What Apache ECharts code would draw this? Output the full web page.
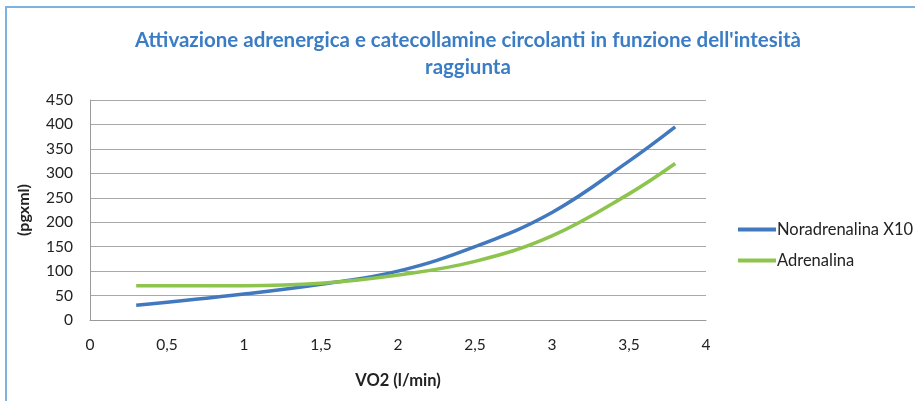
<!DOCTYPE html>
<html>
<head>
<meta charset="utf-8">
<script src="https://cdn.jsdelivr.net/npm/echarts@6/dist/echarts.min.js"></script>
<style>
  html, body { margin: 0; padding: 0; background: #fff; overflow: hidden; }
  #frame { position: absolute; left: 5px; top: 6px; width: 940px; height: 420px; border: 2px solid #7FB2E0; box-sizing: border-box; }
  #chart { position: absolute; left: 0; top: 0; width: 915px; height: 401px; }
</style>
</head>
<body>
<div id="frame"></div>
<div id="chart"></div>
<script>
  // VO2 (l/min) sampled points
  var vo2 = [0.3, 1, 1.5, 2, 2.5, 3, 3.5, 3.8];
  var noradrenalina = [30, 53, 73, 100, 150, 220, 325, 395];
  var adrenalina = [70, 70, 75, 92, 120, 172, 258, 320];
  var seriesNames = ['Noradrenalina X10', 'Adrenalina'];

  function pairs(ys) {
    return vo2.map(function (x, i) { return [x, ys[i]]; });
  }

  var chart = echarts.init(document.getElementById('chart'));
  var font = 'Lato, "Open Sans", sans-serif';
  chart.setOption({
    animation: false,
    title: {
      text: "Attivazione adrenergica e catecollamine circolanti in funzione dell'intesità\nraggiunta",
      left: 463,
      textAlign: 'center',
      top: 22,
      textStyle: { color: '#3B7DC4', fontSize: 20.5, fontWeight: 'bold', fontFamily: font, lineHeight: 27 }
    },
    legend: {
      orient: 'vertical',
      left: 733,
      top: 216,
      itemWidth: 38,
      itemHeight: 4,
      itemGap: 14,
      icon: 'rect',
      textStyle: { fontSize: 16.5, color: '#222', fontFamily: font, padding: [0, 0, 0, -4] },
      data: seriesNames
    },
    grid: { left: 90, right: 209, top: 100, bottom: 81 },
    xAxis: {
      type: 'value',
      min: 0, max: 4, interval: 0.5,
      name: 'VO2 (l/min)',
      nameLocation: 'middle',
      nameGap: 52,
      nameTextStyle: { fontSize: 16.5, fontWeight: 'bold', color: '#222', fontFamily: font },
      axisLine: { lineStyle: { color: '#9a9a9a', width: 1 } },
      axisTick: { show: false },
      splitLine: { show: false },
      axisLabel: {
        fontSize: 15.5, color: '#222', fontFamily: font, margin: 17,
        formatter: function (v) { return String(v).replace('.', ','); }
      }
    },
    yAxis: {
      type: 'value',
      min: 0, max: 450, interval: 50,
      name: '(pgxml)',
      nameLocation: 'middle',
      nameGap: 58,
      nameTextStyle: { fontSize: 16, fontWeight: 'bold', color: '#222', fontFamily: font },
      axisLine: { show: true, lineStyle: { color: '#9a9a9a', width: 1 } },
      axisTick: { show: false },
      splitLine: { lineStyle: { color: '#a8a8a8', width: 1 } },
      axisLabel: { fontSize: 15.5, color: '#222', fontFamily: font, margin: 17 }
    },
    series: [
      {
        name: seriesNames[0], type: 'line', smooth: 0.4, showSymbol: false,
        data: pairs(noradrenalina),
        lineStyle: { color: '#4279BE', width: 3.5 }, itemStyle: { color: '#4279BE' }
      },
      {
        name: seriesNames[1], type: 'line', smooth: 0.4, showSymbol: false,
        data: pairs(adrenalina),
        lineStyle: { color: '#8DC44E', width: 3.5 }, itemStyle: { color: '#8DC44E' }
      }
    ]
  });
</script>
</body>
</html>
